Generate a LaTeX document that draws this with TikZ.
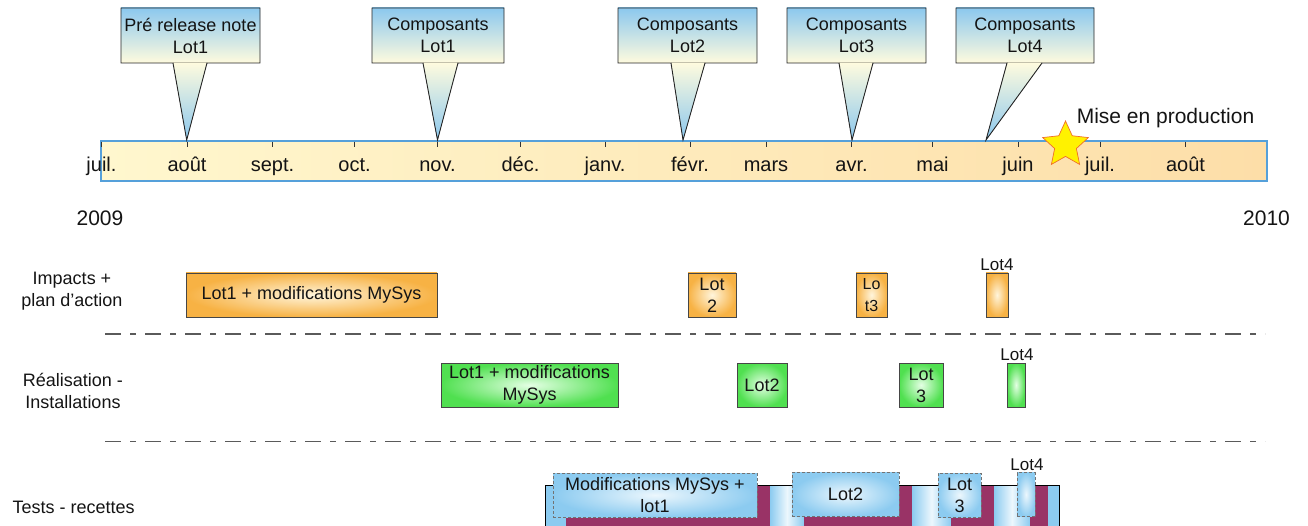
\documentclass[tikz,border=0pt]{standalone}
\usepackage{fontspec}
\setmainfont{Liberation Sans}
\usetikzlibrary{shapes.geometric}
\definecolor{cblue}{RGB}{140,200,238}
\definecolor{cpale}{RGB}{255,251,222}
\definecolor{barL}{RGB}{255,247,206}
\definecolor{barR}{RGB}{253,222,168}
\definecolor{barline}{RGB}{85,160,218}
\definecolor{boxline}{RGB}{70,70,70}
\definecolor{oOut}{RGB}{247,178,68}
\definecolor{oIn}{RGB}{255,245,220}
\definecolor{gOut}{RGB}{80,224,80}
\definecolor{gIn}{RGB}{228,255,228}
\definecolor{bOut}{RGB}{140,203,240}
\definecolor{bIn}{RGB}{236,247,253}
\definecolor{maroonc}{RGB}{153,51,102}
\definecolor{sepgray}{RGB}{90,90,90}
\definecolor{txt}{RGB}{20,20,20}
\newcommand\fsz[1]{\fontsize{#1}{22}\selectfont}
\newcommand\drawcallout[7]{%
  \fill[top color=cblue,bottom color=cpale] (#1,8) rectangle (#2,63);
  \fill[top color=cpale,bottom color=cblue] (#3,62.5) -- (#5,140) -- (#4,62.5) -- cycle;
  \draw[calloutline] (#3,63) -- (#1,63) -- (#1,8) -- (#2,8) -- (#2,63) -- (#4,63) -- (#5,140) -- cycle;
  \node[ctext] (#6) at ({(#1+#2)/2},35.5) {#7};
}
\begin{document}
\begin{tikzpicture}[x=1pt,y=-1pt,
  calloutline/.style={draw=black!85,line width=0.9pt,line join=miter},
  ctext/.style={text=txt,font=\fsz{18},align=center,inner sep=0},
  month/.style={text=txt,font=\fsz{20},anchor=base,inner sep=0},
  tick/.style={draw=black!80,line width=0.8pt},
  rowlabel/.style={text=txt,font=\fsz{18},align=center,inner sep=0},
  sepline/.style={draw=sepgray,line width=1.8pt,dash pattern=on 16pt off 9pt on 6pt off 9pt},
  obox/.style={draw=boxline,line width=0.9pt,inner color=oIn,outer color=oOut,inner sep=0,minimum height=44,align=center,text=txt,font=\fsz{18}},
  gbox/.style={draw=boxline,line width=0.9pt,inner color=gIn,outer color=gOut,inner sep=0,minimum height=44,align=center,text=txt,font=\fsz{18}},
  bbox/.style={draw=black!55,line width=0.8pt,dash pattern=on 3pt off 2pt,inner color=bIn,outer color=bOut,inner sep=0,minimum height=44,align=center,text=txt,font=\fsz{18}},
  smalllab/.style={text=txt,font=\fsz{17},inner sep=0}
]
\useasboundingbox (0,0) rectangle (1308,526);

% timeline bar
\draw[draw=barline,line width=1.2pt,left color=barL,right color=barR] (101,141) rectangle (1267,181);
\foreach \x/\m in {101.5/juil.,187/août,272.5/sept.,354.5/oct.,437.5/nov.,520.5/déc.,605/janv.,690/févr.,766/mars,851.5/avr.,932.5/mai,1018/juin,1100/juil.,1185.5/août}{
  \draw[tick] (\x,141.6) -- (\x,147);
  \node[month] at (\x,172) {\m};
}

% callouts
\drawcallout{121}{260}{173}{207}{186.7}{c1}{Pré release note\\Lot1}
\drawcallout{372}{504}{423}{458}{437.5}{c2}{Composants\\Lot1}
\drawcallout{618}{757}{671}{705}{683}{c3}{Composants\\Lot2}
\drawcallout{787}{926}{839}{873}{852}{c4}{Composants\\Lot3}
\drawcallout{956}{1094}{1007}{1042}{986}{c5}{Composants\\Lot4}

% star
\node[star,star points=5,star point ratio=2.1,minimum size=48,inner sep=0,fill=yellow,draw={rgb,255:red,240;green,110;blue,40},line width=0.7pt] (star) at (1065.5,145) {};
\node[text=txt,font=\fsz{21},anchor=base,inner sep=0] (mep) at (1165.5,123.5) {Mise en production};

% years
\node[text=txt,font=\fsz{21},anchor=base,inner sep=0] (y2009) at (100,226) {2009};
\node[text=txt,font=\fsz{21},anchor=base,inner sep=0] (y2010) at (1266.5,226) {2010};

% row labels
\node[rowlabel] (r1) at (72,291.5) {Impacts +\\plan d’action};
\node[rowlabel] (r2) at (73,390.5) {Réalisation -\\Installations};
\node[rowlabel] (r3) at (73.7,507) {Tests - recettes};

% separators
\draw[sepline] (105,334) -- (1265,334);
\draw[sepline] (105,441.5) -- (1265,441.5);

% row 1
\node[obox,minimum width=251] (i1) at (311.5,295) {Lot1 + modifications MySys};
\node[obox,minimum width=48] (i2) at (712,295) {Lot\\2};
\node[obox,minimum width=31,font=\fsz{16},text width=28] (i3) at (871.5,295) {Lo\\t3};
\node[obox,minimum width=22] (i4) at (997,295) {};
\node[smalllab] (i4l) at (997,265) {Lot4};

% row 2
\node[gbox,minimum width=177] (g1) at (529.5,385) {Lot1 + modifications\\MySys};
\node[gbox,minimum width=50] (g2) at (762,385) {Lot2};
\node[gbox,minimum width=44] (g3) at (921,385) {Lot\\3};
\node[gbox,minimum width=18] (g4) at (1016,385) {};
\node[smalllab] (g4l) at (1017,355) {Lot4};

% row 3
\fill[bOut] (545,485.5) rectangle (1059,540);
\foreach \a/\b in {770/804,912/951,994/1030}{
  \fill[left color=bOut,right color=bOut,middle color=bIn] (\a,486) rectangle (\b,540);
}
\fill[maroonc] (566,486) rectangle (770,540);
\fill[maroonc] (804,486) rectangle (912,540);
\fill[maroonc] (951,486) rectangle (994,540);
\fill[maroonc] (1030,486) rectangle (1048,540);
\draw[black,line width=0.9pt] (545,540) -- (545,485.5) -- (1059,485.5) -- (1059,540);
\node[bbox,minimum width=204] (t1) at (655,495) {Modifications MySys +\\lot1};
\node[bbox,minimum width=107] (t2) at (845.5,494.5) {Lot2};
\node[bbox,minimum width=43] (t3) at (959.5,495) {Lot\\3};
\node[bbox,minimum width=18] (t4) at (1026,494.5) {};
\node[smalllab] (t4l) at (1027,465) {Lot4};
\end{tikzpicture}
\end{document}
